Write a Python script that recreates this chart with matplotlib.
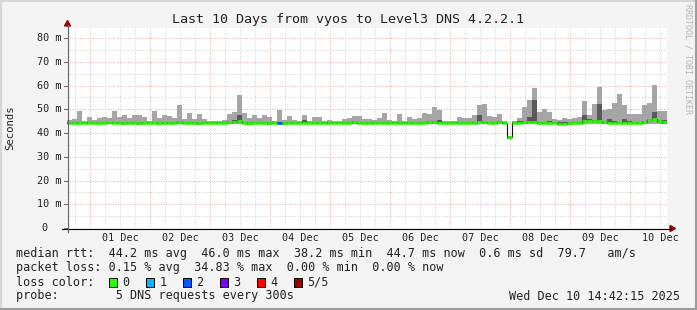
import matplotlib
matplotlib.use("Agg")
import matplotlib.pyplot as plt
from matplotlib.lines import Line2D
from matplotlib.patches import Rectangle, Polygon
import matplotlib.transforms as mtransforms

W, H = 697, 310

# x is in days from 01 Dec 00:00, bins of 2 hours from Nov 30 14:48
start_day = -23 / 60
end_day = 9 + 37 / 60
bin_days = 1 / 12

median_ms = [
    44.4, 44.4, 44.3, 44.3, 44.2, 44.3, 44.4, 44.4, 44.5, 44.4,
    44.3, 44.1, 44.2, 44.3, 44.1, 44.3, 44.4, 44.2, 44.1, 44.3,
    44.4, 44.3, 44.5, 44.2, 44.4, 44.3, 44.1, 44.2, 44.3, 44.3,
    44.2, 44.3, 44.6, 44.5, 44.9, 44.2, 44.1, 44.3, 44.2, 44.3,
    44.1, 44.2, 44.3, 44.1, 44.2, 44.3, 44.2, 44.4, 44.2, 44.2,
    44.3, 44.2, 44.3, 44.3, 44.2, 44.3, 44.4, 44.5, 44.4, 44.3,
    44.4, 44.2, 44.3, 44.3, 44.2, 44.2, 44.4, 44.3, 44.4, 44.3,
    44.2, 44.3, 44.5, 44.6, 44.4, 44.3, 44.4, 44.3, 44.3, 44.2,
    44.3, 44.4, 44.8, 44.5, 44.2, 44.3, 44.5, 44.4, 38.2, 44.3,
    44.4, 44.5, 44.6, 44.8, 44.3, 44.2, 44.4, 44.2, 44.0, 44.0,
    44.1, 44.2, 44.3, 45.0, 45.2, 45.1, 44.9, 44.5, 44.2, 44.4,
    44.3, 44.2, 44.4, 44.3, 44.3, 44.5, 45.3, 46.0, 45.0, 44.6,
]

smoke_max_ms = [
    45.3, 46.0, 49.4, 45.0, 46.8, 45.5, 46.3, 46.8, 46.3, 49.4,
    46.8, 47.7, 46.3, 47.4, 47.7, 46.8, 45.1, 49.1, 46.3, 47.4,
    47.0, 46.3, 51.6, 46.0, 48.5, 45.7, 48.0, 46.0, 45.0, 45.1,
    45.1, 45.5, 48.0, 48.8, 55.8, 48.5, 46.5, 47.7, 46.5, 47.7,
    46.8, 45.0, 49.7, 45.5, 47.3, 45.3, 45.1, 47.5, 45.1, 46.8,
    46.8, 45.0, 45.3, 45.1, 45.1, 45.7, 46.3, 47.3, 47.3, 45.7,
    46.0, 45.3, 46.3, 48.5, 45.3, 44.9, 48.0, 45.0, 46.8, 45.7,
    46.5, 48.5, 48.2, 51.1, 49.7, 45.0, 45.1, 44.9, 46.8, 46.3,
    46.3, 47.7, 51.6, 52.2, 47.0, 46.8, 48.2, 45.1, 38.8, 45.1,
    46.5, 50.8, 54.1, 58.9, 48.8, 50.2, 48.8, 45.7, 45.5, 46.3,
    46.0, 46.5, 46.8, 53.3, 47.7, 52.2, 59.2, 49.7, 50.2, 52.5,
    56.4, 51.9, 48.0, 48.0, 48.0, 51.9, 52.5, 60.3, 49.1, 49.1,
]

smoke_dark_ms = [
    44.8, 44.8, 44.8, 44.8, 44.8, 44.8, 44.8, 44.8, 44.8, 44.8,
    44.8, 44.8, 44.8, 44.8, 44.8, 44.8, 44.8, 44.8, 44.8, 44.8,
    44.8, 44.8, 44.9, 44.8, 44.8, 44.8, 44.8, 44.8, 44.8, 44.8,
    44.8, 44.8, 45.0, 45.5, 47.7, 44.8, 44.8, 44.8, 44.8, 44.8,
    44.8, 44.8, 44.8, 44.8, 44.8, 44.8, 44.8, 45.3, 44.8, 44.8,
    44.8, 44.8, 44.8, 44.8, 44.8, 44.8, 44.8, 44.9, 44.8, 44.8,
    44.8, 44.8, 44.8, 44.8, 44.8, 44.8, 44.8, 44.8, 44.8, 44.8,
    44.8, 44.8, 45.0, 45.1, 45.5, 44.8, 44.8, 44.8, 44.8, 44.8,
    44.8, 44.8, 47.7, 45.0, 44.8, 44.8, 45.0, 44.8, 38.6, 44.8,
    44.9, 45.0, 46.8, 53.7, 44.8, 44.8, 44.9, 44.8, 44.8, 44.8,
    44.8, 44.8, 44.8, 47.7, 45.7, 45.6, 52.2, 45.0, 45.7, 44.9,
    44.8, 45.7, 44.9, 44.8, 44.8, 45.0, 45.8, 49.0, 45.5, 45.3,
]

smoke_min_ms = [43.6] * 88 + [37.8] + [43.6] * 31

loss_class = [0] * 42 + [2] + [0] * 77

day_labels = ["01 Dec", "02 Dec", "03 Dec", "04 Dec", "05 Dec",
              "06 Dec", "07 Dec", "08 Dec", "09 Dec", "10 Dec"]
y_ticks = [0, 10, 20, 30, 40, 50, 60, 70, 80]

loss_colors = ["#26ff00", "#00b8ff", "#0059ff", "#7e00ff", "#ff0000", "#a10000"]
loss_names = ["0", "1", "2", "3", "4", "5/5"]

title = "Last 10 Days from vyos to Level3 DNS 4.2.2.1"
rtt_line = "median rtt:  44.2 ms avg  46.0 ms max  38.2 ms min  44.7 ms now  0.6 ms sd  79.7   am/s"
loss_line = "packet loss: 0.15 % avg  34.83 % max  0.00 % min  0.00 % now"
probe_line = "probe:        5 DNS requests every 300s"
stamp = "Wed Dec 10 14:42:15 2025"

MONO = "DejaVu Sans Mono"


def fx(x):
    return x / W


def fy(y):
    return 1 - y / H


fig = plt.figure(figsize=(W / 100, H / 100), dpi=100, facecolor="#f3f3f3")

# plot box: x 67..667 px, y 28..228 px ; 2.375 px per ms
y_top = (228 - 28) / 2.375
ax = fig.add_axes([fx(67), fy(228), 600 / W, 200 / H])
ax.set_xlim(start_day, end_day)
ax.set_ylim(0, y_top)
ax.set_facecolor("white")
for s in ax.spines.values():
    s.set_visible(False)
ax.set_xticks([])
ax.set_yticks([])

# grid
dot = (0, (1, 1.6))
k = int(start_day * 4) - 1
while k / 4 <= end_day:
    xv = k / 4
    if start_day < xv < end_day:
        if k % 4 == 0:
            ax.axvline(xv, color="#e8a8a8", lw=0.7, ls=dot, zorder=0.6)
        else:
            ax.axvline(xv, color="#cfcfcf", lw=0.7, ls=dot, zorder=0.5)
    k += 1
for yv in range(5, 85, 5):
    if yv % 10 == 0:
        ax.axhline(yv, color="#e8a8a8", lw=0.7, ls=dot, zorder=0.6)
    else:
        ax.axhline(yv, color="#cfcfcf", lw=0.7, ls=dot, zorder=0.5)

lefts = [start_day + i * bin_days for i in range(len(median_ms))]

# smoke
ax.bar(lefts, [hi - lo for hi, lo in zip(smoke_max_ms, smoke_min_ms)],
       bottom=smoke_min_ms, width=bin_days, align="edge",
       color="#a5a5a5", linewidth=0, zorder=2)
dark_lo = [min(m - 0.6, d) for m, d in zip(median_ms, smoke_dark_ms)]
ax.bar(lefts, [d - lo for d, lo in zip(smoke_dark_ms, dark_lo)],
       bottom=dark_lo, width=bin_days, align="edge",
       color="#5a5a5a", linewidth=0, zorder=3)

# median
edges = lefts + [lefts[-1] + bin_days]
ax.step(edges, median_ms + [median_ms[-1]], where="post",
        color="#111111", lw=0.8, zorder=4)
ax.hlines(median_ms, lefts, [x + bin_days for x in lefts],
          colors=[loss_colors[c] for c in loss_class], lw=1.9, zorder=5)

# axes lines and arrows
fig.add_artist(Line2D([fx(62), fx(671)], [fy(228.5), fy(228.5)], color="black", lw=0.8))
fig.add_artist(Line2D([fx(67.5), fx(67.5)], [fy(232), fy(25)], color="#666666", lw=0.9))
fig.add_artist(Polygon([(fx(670), fy(225.5)), (fx(670), fy(231.5)), (fx(675.5), fy(228.5))],
                       closed=True, color="#a00000", transform=fig.transFigure))
fig.add_artist(Polygon([(fx(64.5), fy(26)), (fx(70.5), fy(26)), (fx(67.5), fy(20.5))],
                       closed=True, color="#a00000", transform=fig.transFigure))

# y tick labels
ytr = mtransforms.blended_transform_factory(fig.transFigure, ax.transData)
for t in y_ticks:
    if t == 0:
        fig.text(fx(47.5), t, "0", transform=ytr, ha="right", va="center",
                 family=MONO, fontsize=7.3, color="#222222")
    else:
        fig.text(fx(61), t, "%d m" % t, transform=ytr, ha="right", va="center",
                 family=MONO, fontsize=7.3, color="#222222")
    fig.add_artist(Line2D([fx(64), fx(67)], [t, t], transform=ytr, color="#666666", lw=0.7))

# x tick labels at noon
xtr = mtransforms.blended_transform_factory(ax.transData, fig.transFigure)
for d, lab in enumerate(day_labels):
    fig.text(d + 0.5, fy(238), lab, transform=xtr, ha="center", va="center",
             family=MONO, fontsize=7.3, color="#222222")

# titles
fig.text(fx(348.5), fy(19), title, ha="center", va="center", family=MONO,
         fontsize=9.6, color="#222222")
fig.text(fx(10), fy(128), "Seconds", rotation=90, ha="center", va="center",
         family=MONO, fontsize=7.7, color="#222222")
fig.text(fx(688), fy(59), "RRDTOOL / TOBI OETIKER", rotation=270, ha="center",
         va="center", family=MONO, fontsize=6, color="#b4b4b4")

# legend
LF = 8.5
fig.text(fx(16), fy(254), rtt_line, ha="left", va="center", family=MONO, fontsize=LF, color="#222222")
fig.text(fx(16), fy(268), loss_line, ha="left", va="center", family=MONO, fontsize=LF, color="#222222")
fig.text(fx(16), fy(282), "loss color:", ha="left", va="center", family=MONO, fontsize=LF, color="#222222")
box_x = [108.5, 145.5, 182.5, 219.5, 256.5, 293.5]
for bx, col, name in zip(box_x, loss_colors, loss_names):
    fig.add_artist(Rectangle((fx(bx), fy(286.5)), 8.5 / W, 8.5 / H, transform=fig.transFigure,
                             facecolor=col, edgecolor="black", lw=0.7))
    fig.text(fx(bx + 14), fy(282), name, ha="left", va="center", family=MONO, fontsize=LF, color="#222222")
fig.text(fx(16), fy(296), probe_line, ha="left", va="center", family=MONO, fontsize=LF, color="#222222")
fig.text(fx(680), fy(296), stamp, ha="right", va="center", family=MONO, fontsize=LF, color="#222222")

# 3d frame
fig.add_artist(Line2D([0, 1], [fy(0.5), fy(0.5)], color="#d6d6d6", lw=1.5))
fig.add_artist(Line2D([fx(0.5), fx(0.5)], [0, 1], color="#d6d6d6", lw=1.5))
fig.add_artist(Line2D([0, 1], [fy(309), fy(309)], color="#9c9c9c", lw=1.5))
fig.add_artist(Line2D([fx(696), fx(696)], [0, 1], color="#9c9c9c", lw=1.5))

fig.savefig("out.png", dpi=100, facecolor=fig.get_facecolor())
